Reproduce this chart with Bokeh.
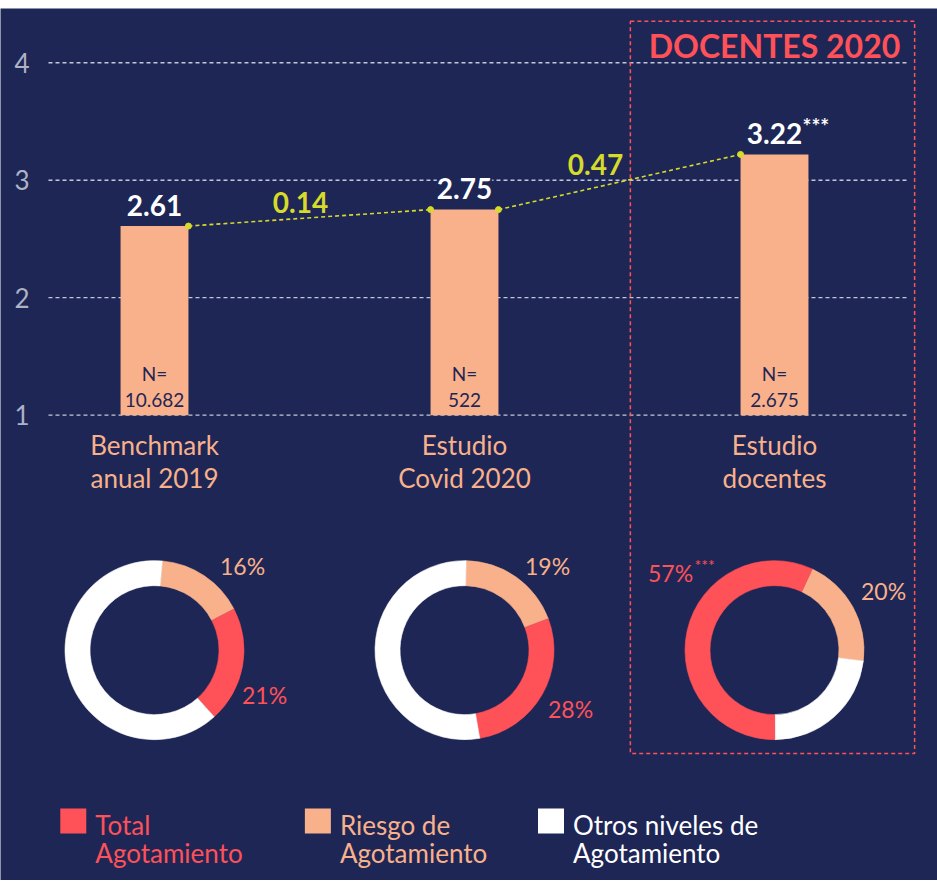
import math
from bokeh.plotting import figure
from bokeh.layouts import column
from bokeh.models import Range1d, ColumnDataSource, Spacer
from bokeh.core.properties import value
from bokeh.embed import file_html
from bokeh.resources import INLINE

# ---------------- data ----------------
categories = ["Benchmark\nanual 2019", "Estudio\nCovid 2020", "Estudio\ndocentes"]
bar_values = [2.61, 2.75, 3.22]
bar_value_labels = ["2.61", "2.75", "3.22"]
bar_significance = ["", "", "***"]
sample_sizes = ["10.682", "522", "2.675"]
delta_labels = ["0.14", "0.47"]
y_ticks = [1, 2, 3, 4]
y_tick_labels = ["1", "2", "3", "4"]
total_agotamiento = [21, 28, 57]
riesgo_agotamiento = [16, 19, 20]
otros_niveles = [63, 53, 23]
total_significance = ["", "", "***"]
legend_labels = ["Total\nAgotamiento", "Riesgo de\nAgotamiento", "Otros niveles de\nAgotamiento"]
highlight_title = "DOCENTES 2020"

# ---------------- style ----------------
NAVY = "#1e2656"
SALMON = "#f8b18b"
RED = "#fe5158"
YELLOW = "#d6da2b"
WHITE = "#ffffff"
GRID = "#c3c7d6"
TICK = "#aeb2c5"
FONT = "Lato"

W, H = 937, 872
BAR_W = 0.219
X0, X1 = -0.4968, 2.5258
GRID_X0, GRID_X1 = -0.342, 2.429
TICK_X = -0.4032
DONUT_Y = -1.0
R_IN, R_OUT = 64.5, 89.5
LEG_X = [-0.262, 0.527, 1.279]
LEG_Y = -2.4545
HL = 2  # highlighted category index

xs = list(range(len(categories)))

p = figure(width=W, height=H,
           x_range=Range1d(X0, X1), y_range=Range1d(-2.961, 4.462),
           output_backend="svg", toolbar_location=None,
           x_axis_location=None, y_axis_location=None,
           min_border_left=0, min_border_right=0, min_border_top=0, min_border_bottom=0,
           background_fill_color=NAVY, border_fill_color=NAVY, outline_line_color=None)
p.grid.visible = False

TXT = dict(text_baseline="middle", text_font=value(FONT))

# y ticks + gridlines
p.text(x=[TICK_X] * len(y_ticks), y=y_ticks, text=y_tick_labels, text_align="right",
       text_font_size="26px", text_color=TICK, **TXT)
p.segment(x0=[GRID_X0] * len(y_ticks), x1=[GRID_X1] * len(y_ticks), y0=y_ticks, y1=y_ticks,
          line_color=GRID, line_dash="4 3", line_width=1.3)

# highlight box
p.quad(left=[HL - 0.465], right=[HL + 0.452], top=[4.354], bottom=[-1.880],
       fill_color=None, line_color=RED, line_dash="4 3", line_width=1.5)
p.text(x=[HL], y=[4.147], text=[highlight_title], text_align="center",
       text_font_style="bold", text_font_size="32px", text_color=RED, **TXT)

# bars
base = y_ticks[0]
p.vbar(x=xs, top=bar_values, bottom=base, width=BAR_W, fill_color=SALMON, line_color=None)

# connectors
cx0 = [xs[i] + BAR_W / 2 for i in range(len(xs) - 1)]
cx1 = [xs[i + 1] - BAR_W / 2 for i in range(len(xs) - 1)]
cy0 = bar_values[:-1]
cy1 = bar_values[1:]
p.segment(x0=cx0, y0=cy0, x1=cx1, y1=cy1, line_color=YELLOW, line_dash="4 3", line_width=1.6)
p.scatter(x=cx0 + cx1, y=cy0 + cy1, size=6, color=YELLOW)

dsrc = ColumnDataSource(dict(
    x=[(a + b) / 2 for a, b in zip(cx0, cx1)],
    y=[(a + b) / 2 for a, b in zip(cy0, cy1)],
    t=delta_labels, xo=[-9, -24], yo=[-15, -17.5]))
p.text(x="x", y="y", text="t", x_offset="xo", y_offset="yo", source=dsrc,
       text_align="center", text_font_style="bold", text_font_size="28px",
       text_color=YELLOW, **TXT)

# value labels
p.text(x=xs, y=bar_values, text=bar_value_labels, y_offset=-21, text_align="center",
       text_font_style="bold", text_font_size="28px", text_color=WHITE,
       background_fill_color=NAVY, **TXT)
p.text(x=xs, y=bar_values, text=bar_significance, x_offset=28, y_offset=-29, text_align="left",
       text_font_style="bold", text_font_size="21px", text_color=WHITE, **TXT)

# N labels
p.text(x=xs, y=[base] * len(xs), text=["N="] * len(xs), y_offset=-42, text_align="center",
       text_font_size="19px", text_color=NAVY, **TXT)
p.text(x=xs, y=[base] * len(xs), text=sample_sizes, y_offset=-15, text_align="center",
       text_font_size="19px", text_color=NAVY, **TXT)

# category labels
line1 = [c.split("\n")[0] for c in categories]
line2 = [c.split("\n")[1] for c in categories]
for txt, off in ((line1, 30), (line2, 63)):
    p.text(x=xs, y=[base] * len(xs), text=txt, y_offset=off, text_align="center",
           text_font_size="26px", text_color=SALMON, **TXT)

# donuts
slice_colors = {"total": RED, "riesgo": SALMON, "otros": WHITE}
orders = [["riesgo", "total", "otros"], ["riesgo", "total", "otros"], ["riesgo", "otros", "total"]]
starts = [5, 1, 25]  # degrees clockwise from 12 o'clock
wx, wy, ws, we, wc = [], [], [], [], []
for i in xs:
    shares = {"total": total_agotamiento[i], "riesgo": riesgo_agotamiento[i], "otros": otros_niveles[i]}
    th = starts[i]
    for key in orders[i]:
        th2 = th + shares[key] * 3.6
        wx.append(i); wy.append(DONUT_Y)
        ws.append(math.radians(90 - th2)); we.append(math.radians(90 - th))
        wc.append(slice_colors[key])
        th = th2
p.annular_wedge(x=wx, y=wy, inner_radius=R_IN, outer_radius=R_OUT,
                inner_radius_units="screen", outer_radius_units="screen",
                start_angle=ws, end_angle=we, direction="anticlock",
                fill_color=wc, line_color=wc, line_width=0.6)

riesgo_off = [(88, -84), (83, -84), (109, -59)]
total_off = [(110, 45), (106, 59), (-104, -77)]
psrc = ColumnDataSource(dict(
    x=xs + xs, y=[DONUT_Y] * (2 * len(xs)),
    t=[f"{v}%" for v in riesgo_agotamiento] + [f"{v}%" for v in total_agotamiento],
    xo=[o[0] for o in riesgo_off] + [o[0] for o in total_off],
    yo=[o[1] for o in riesgo_off] + [o[1] for o in total_off],
    c=[SALMON] * len(xs) + [RED] * len(xs)))
p.text(x="x", y="y", text="t", x_offset="xo", y_offset="yo", text_color="c", source=psrc,
       text_align="center", text_font_size="23px", **TXT)
p.text(x=xs, y=[DONUT_Y] * len(xs), text=total_significance,
       x_offset=[o[0] + 24 for o in total_off], y_offset=[o[1] - 9 for o in total_off],
       text_align="left", text_font_size="16px", text_color=RED, **TXT)

# legend
leg_colors = [RED, SALMON, WHITE]
p.rect(x=LEG_X, y=[LEG_Y] * 3, width=26, height=25, width_units="screen", height_units="screen",
       fill_color=leg_colors, line_color=None)
l1 = [s.split("\n")[0] for s in legend_labels]
l2 = [s.split("\n")[1] for s in legend_labels]
for txt, off in ((l1, 4), (l2, 32)):
    p.text(x=LEG_X, y=[LEG_Y] * 3, text=txt, x_offset=22, y_offset=off, text_align="left",
           text_font_size="26px", text_color=leg_colors, **TXT)

layout = column(Spacer(width=W, height=8), p, spacing=0)
open("out.html", "w").write(file_html(layout, INLINE))
